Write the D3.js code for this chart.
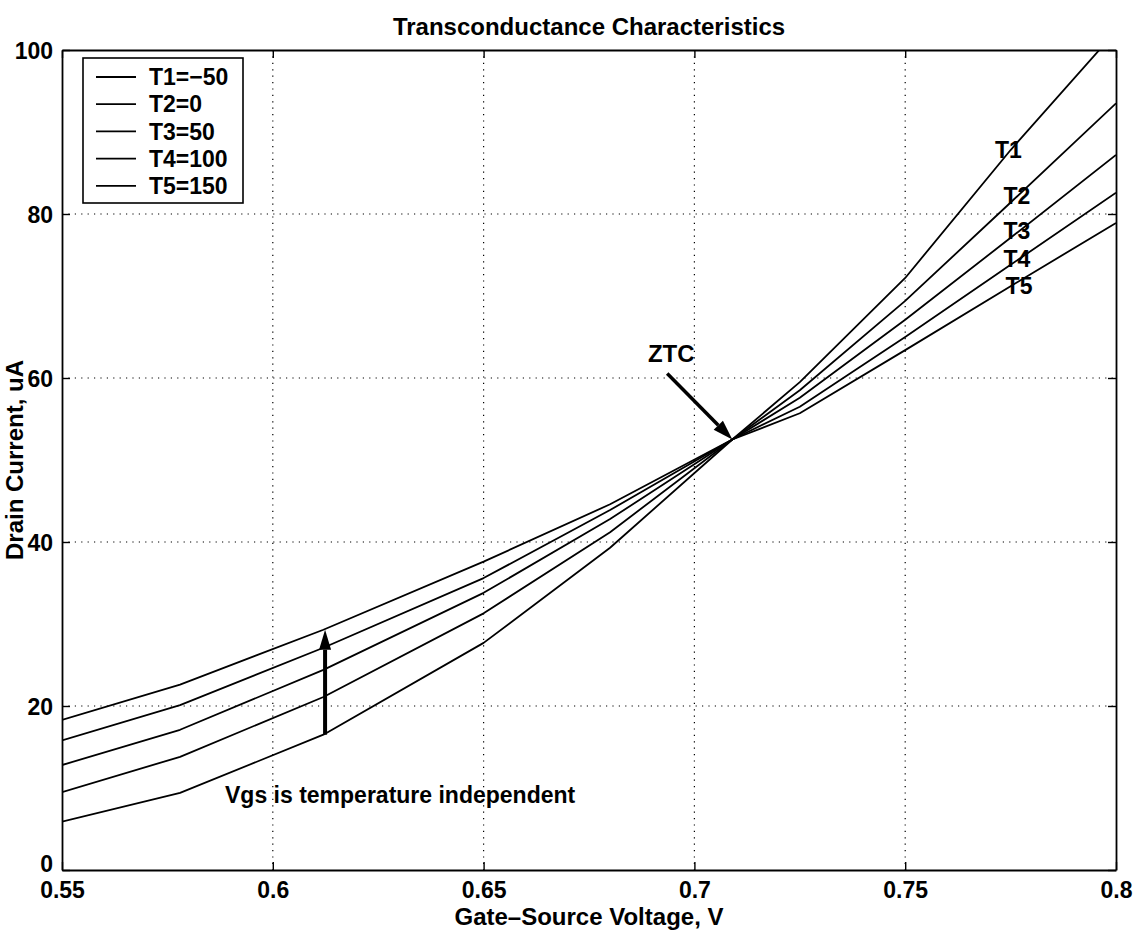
<!DOCTYPE html>
<html>
<head>
<meta charset="utf-8">
<script src="https://cdn.jsdelivr.net/npm/d3@7/dist/d3.min.js"></script>
<style>
  html, body { margin: 0; padding: 0; background: #fff; }
  svg text { font-family: "Liberation Sans", Arial, Helvetica, sans-serif; font-weight: bold; fill: #000; }
</style>
</head>
<body>
<svg id="chart" width="1139" height="938"></svg>
<script>
// Gate-source voltage sample points (V)
const vgs = [0.55, 0.578, 0.612, 0.65, 0.68, 0.709, 0.725, 0.75, 0.775, 0.8];

// Drain current (uA) for each temperature
const idT1 = [5.9, 9.4, 16.5, 27.7, 39.3, 52.5, 59.5, 72.2, 87.8, 102.3];
const idT2 = [9.5, 13.8, 21.1, 31.3, 41.2, 52.5, 58.5, 69.4, 81.4, 93.5];
const idT3 = [12.8, 17.1, 24.4, 33.8, 42.8, 52.5, 57.6, 67.1, 77.1, 87.2];
const idT4 = [15.8, 20.1, 27.1, 35.6, 43.9, 52.5, 56.5, 65.0, 73.8, 82.6];
const idT5 = [18.3, 22.6, 29.3, 37.6, 44.6, 52.5, 55.7, 63.4, 71.2, 78.9];

const seriesNames = ["T1", "T2", "T3", "T4", "T5"];
const legendLabels = ["T1=\u221250", "T2=0", "T3=50", "T4=100", "T5=150"];
const seriesValues = [idT1, idT2, idT3, idT4, idT5];

// Curve labels placed at the right, on each curve
const labelVgs = [0.7745, 0.7765, 0.7765, 0.7765, 0.777];
const labelId = [87.9, 82.2, 78.0, 74.6, 71.3];

const xTicks = [0.55, 0.6, 0.65, 0.7, 0.75, 0.8];
const yTicks = [0, 20, 40, 60, 80, 100];

// Annotations
const ztcPoint = { v: 0.709, i: 52.5 };
const ztcText = { v: 0.6945, i: 62.0 };
const vgsArrow = { v: 0.6124, from: 16.5, to: 29.3 };
const vgsNote = { v: 0.6302, i: 8.2 };

const svg = d3.select("#chart");
const plotL = 62, plotR = 1116, plotT = 50, plotB = 870;
const fs = 23;

const x = d3.scaleLinear().domain([0.55, 0.8]).range([plotL, plotR]);
const y = d3.scaleLinear().domain([0, 100]).range([plotB, plotT]);

svg.append("defs").append("clipPath").attr("id", "plotClip")
  .append("rect").attr("x", plotL).attr("y", plotT)
  .attr("width", plotR - plotL).attr("height", plotB - plotT);

// dotted grid
const grid = svg.append("g").attr("stroke", "#000").attr("stroke-width", 1.2)
  .attr("stroke-dasharray", "1.2,5.2");
grid.selectAll(".gx").data(xTicks.slice(1, -1)).join("line")
  .attr("x1", d => x(d)).attr("x2", d => x(d)).attr("y1", plotT).attr("y2", plotB);
grid.selectAll(".gy").data(yTicks.slice(1, -1)).join("line")
  .attr("y1", d => y(d)).attr("y2", d => y(d)).attr("x1", plotL).attr("x2", plotR);

// curves
const line = d3.line().x(d => x(d[0])).y(d => y(d[1]));
svg.append("g").attr("clip-path", "url(#plotClip)")
  .selectAll("path").data(seriesValues).join("path")
  .attr("d", vals => line(vgs.map((v, k) => [v, vals[k]])))
  .attr("fill", "none").attr("stroke", "#000").attr("stroke-width", 1.8)
  .attr("stroke-linejoin", "round");

// axes: bottom/left with labels, top/right ticks only, all ticks inward
const tickLen = 8;
const axB = svg.append("g").attr("transform", `translate(0,${plotB})`)
  .call(d3.axisBottom(x).tickValues(xTicks).tickSizeInner(-tickLen).tickSizeOuter(0)
    .tickFormat(d => String(+d.toFixed(2))));
const axL = svg.append("g").attr("transform", `translate(${plotL},0)`)
  .call(d3.axisLeft(y).tickValues(yTicks).tickSizeInner(-tickLen).tickSizeOuter(0));
const axT = svg.append("g").attr("transform", `translate(0,${plotT})`)
  .call(d3.axisTop(x).tickValues(xTicks).tickSizeInner(-tickLen).tickSizeOuter(0).tickFormat(""));
const axR = svg.append("g").attr("transform", `translate(${plotR},0)`)
  .call(d3.axisRight(y).tickValues(yTicks).tickSizeInner(-tickLen).tickSizeOuter(0).tickFormat(""));
[axB, axL, axT, axR].forEach(a => {
  a.select(".domain").attr("stroke", "#000").attr("stroke-width", 1.8);
  a.selectAll(".tick line").attr("stroke", "#000").attr("stroke-width", 1.4);
  a.attr("font-family", null).attr("font-size", null);
});
axB.selectAll(".tick text").attr("font-size", fs).attr("dy", null).attr("y", 28);
// the zero label sits a little above the corner so it clears the x labels
axL.selectAll(".tick text").attr("font-size", fs).attr("dy", "0.36em").attr("x", -9)
  .attr("y", d => d === 0 ? -7 : 0);

// title and axis titles
svg.append("text").attr("x", (plotL + plotR) / 2).attr("y", 35)
  .attr("text-anchor", "middle").attr("font-size", 24)
  .text("Transconductance Characteristics");
svg.append("text").attr("x", (plotL + plotR) / 2).attr("y", 925)
  .attr("text-anchor", "middle").attr("font-size", 24)
  .text("Gate\u2013Source Voltage, V");
svg.append("text").attr("transform", `translate(23,${(plotT + plotB) / 2}) rotate(-90)`)
  .attr("text-anchor", "middle").attr("font-size", 24)
  .text("Drain Current, uA");

// curve labels
svg.append("g").selectAll("text").data(seriesNames).join("text")
  .attr("x", (d, k) => x(labelVgs[k])).attr("y", (d, k) => y(labelId[k]))
  .attr("dy", "0.36em").attr("text-anchor", "middle").attr("font-size", fs)
  .text(d => d);

// arrow helper
function arrow(x1, y1, x2, y2, w, headLen, headW) {
  const ang = Math.atan2(y2 - y1, x2 - x1);
  const bx = x2 - headLen * Math.cos(ang), by = y2 - headLen * Math.sin(ang);
  svg.append("line").attr("x1", x1).attr("y1", y1).attr("x2", bx).attr("y2", by)
    .attr("stroke", "#000").attr("stroke-width", w);
  const px = -Math.sin(ang) * headW / 2, py = Math.cos(ang) * headW / 2;
  svg.append("path")
    .attr("d", `M${x2},${y2}L${bx + px},${by + py}L${bx - px},${by - py}Z`)
    .attr("fill", "#000");
}

// ZTC annotation
svg.append("text").attr("x", x(ztcText.v)).attr("y", y(ztcText.i))
  .attr("text-anchor", "middle").attr("font-size", 24).text("ZTC");
arrow(x(ztcText.v) - 4, y(ztcText.i) + 12, x(ztcPoint.v), y(ztcPoint.i), 3.5, 20, 13);

// Vgs annotation
arrow(x(vgsArrow.v), y(vgsArrow.from), x(vgsArrow.v), y(vgsArrow.to), 4, 20, 12);
svg.append("text").attr("x", x(vgsNote.v)).attr("y", y(vgsNote.i))
  .attr("text-anchor", "middle").attr("font-size", fs)
  .text("Vgs is temperature independent");

// legend
const lg = svg.append("g");
lg.append("rect").attr("x", 83).attr("y", 58).attr("width", 160).attr("height", 145)
  .attr("fill", "#fff").attr("stroke", "#000").attr("stroke-width", 1.6);
const rows = lg.selectAll("g.row").data(legendLabels).join("g")
  .attr("transform", (d, k) => `translate(0,${77 + k * 27.2})`);
rows.append("line").attr("x1", 96).attr("x2", 136).attr("y1", 0).attr("y2", 0)
  .attr("stroke", "#000").attr("stroke-width", 1.8);
rows.append("text").attr("x", 149).attr("dy", "0.36em").attr("font-size", fs).text(d => d);
</script>
</body>
</html>
